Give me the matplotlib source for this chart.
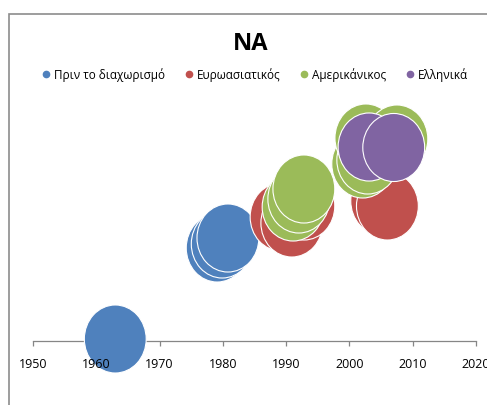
import matplotlib
matplotlib.use("Agg")
import matplotlib.pyplot as plt
import numpy as np
from matplotlib.path import Path
from matplotlib.lines import Line2D
from matplotlib.patches import Rectangle

plt.rcParams['font.family'] = ['Open Sans', 'DejaVu Sans']

# Bubble series: year, value, bubble size
series_names = ['Πριν το διαχωρισμό', 'Ευρωασιατικός', 'Αμερικάνικος', 'Ελληνικά']
series_colors = ['#4F81BD', '#C0504D', '#9BBB59', '#8064A2']

before_x = [1963.0, 1979.1, 1979.9, 1980.8]
before_y = [0.04, 1.86, 1.94, 2.06]
before_s = [1, 1, 1, 1]

euras_x = [1989.2, 1990.9, 1992.8, 2005.1, 2006.0]
euras_y = [2.48, 2.36, 2.70, 2.80, 2.70]
euras_s = [1, 1, 1, 1, 1]

amer_x = [1991.1, 1992.0, 1992.8, 2002.1, 2002.9, 2002.6, 2007.5]
amer_y = [2.68, 2.84, 3.04, 3.54, 3.62, 4.06, 4.04]
amer_s = [1, 1, 1, 1, 1, 1, 1]

greek_x = [2003.1, 2007.0]
greek_y = [3.88, 3.87]
greek_s = [1, 1]

x_ticks = [1950, 1960, 1970, 1980, 1990, 2000, 2010, 2020]

fig = plt.figure(figsize=(4.87, 4.06), dpi=100)
ax = fig.add_axes([33 / 487, 11 / 406, 443 / 487, 300 / 406])

# slightly tall ellipse used as bubble marker
circ = Path.unit_circle()
bubble = Path(circ.vertices * np.array([1.0, 1.1]), circ.codes)

scale = 2400
data = [(before_x, before_y, before_s), (euras_x, euras_y, euras_s),
        (amer_x, amer_y, amer_s), (greek_x, greek_y, greek_s)]
for (xs, ys, ss), name, col in zip(data, series_names, series_colors):
    ax.scatter(xs, ys, s=np.array(ss) * scale, marker=bubble, color=col,
               edgecolors='white', linewidths=0.8, zorder=2, label=name)

ax.set_xlim(1950, 2020)
ax.set_ylim(-1.06, 4.94)
for side in ['left', 'right', 'top']:
    ax.spines[side].set_visible(False)
ax.spines['bottom'].set_position(('data', 0))
ax.spines['bottom'].set_color('#868686')
ax.spines['bottom'].set_linewidth(0.9)
ax.spines['bottom'].set_zorder(1)
ax.xaxis.set_zorder(1)
ax.set_yticks([])
ax.set_xticks(x_ticks)
ax.tick_params(axis='x', direction='out', length=3.6, width=0.9,
               color='#868686', labelbottom=False)
# year labels sit above the bubbles, tick marks below them
for t in x_ticks:
    ax.text(t, -0.46, str(t), ha='center', va='center', fontsize=9,
            color='#000000', zorder=3, clip_on=False)

fig.text(251 / 487, 1 - 44 / 406, 'NA', ha='center', va='center',
         fontsize=17, fontweight='bold')

handles = [Line2D([], [], marker='o', linestyle='none', markersize=4.5,
                  markerfacecolor=c, markeredgecolor=c) for c in series_colors]
fig.legend(handles, series_names, loc='center', ncol=4,
           bbox_to_anchor=(254 / 487, 1 - 75 / 406), frameon=False,
           fontsize=8.5, handletextpad=0.17, columnspacing=1.5,
           handlelength=1.0, borderaxespad=0, borderpad=0)

fig.add_artist(Rectangle((9 / 487, -0.1), 1.2, 1.1 - 15 / 406,
                         transform=fig.transFigure, fill=False,
                         edgecolor='#8c8c8c', linewidth=1.2))

fig.savefig('out.png', dpi=100)
